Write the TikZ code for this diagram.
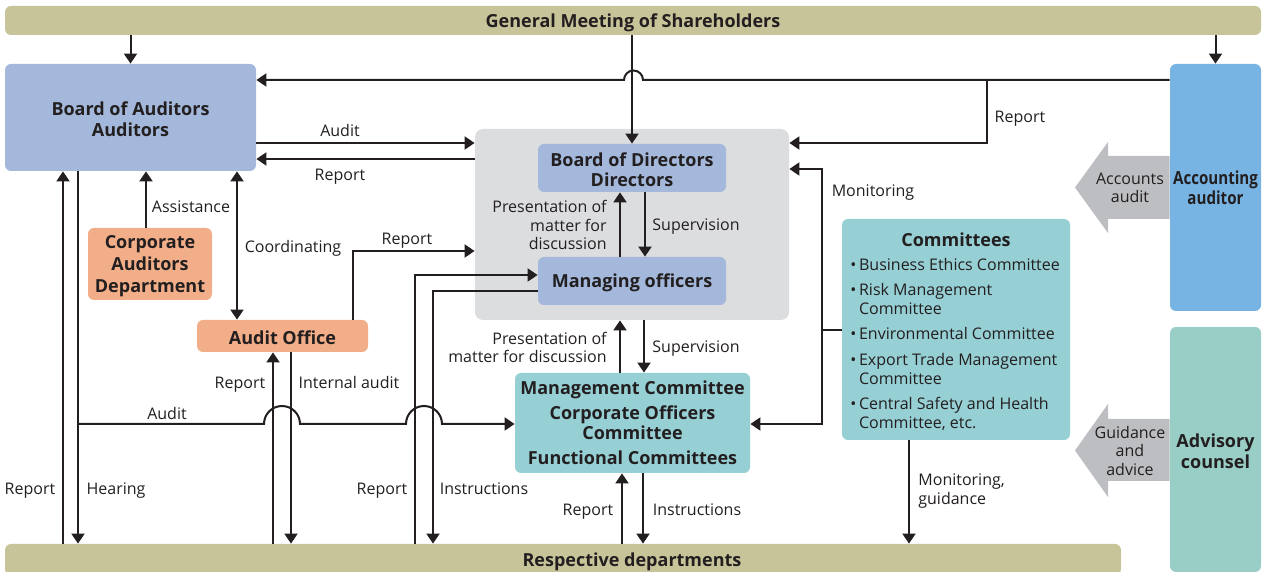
\documentclass[tikz,border=0pt]{standalone}
\usepackage{fontspec}
\setmainfont{Open Sans}
\newfontfamily\narrowsans[FakeStretch=0.84]{Open Sans}
\usetikzlibrary{arrows.meta,calc}
\definecolor{barFill}{HTML}{C8C49A}
\definecolor{audFill}{HTML}{A3B8DA}
\definecolor{dirFill}{HTML}{DCDDDF}
\definecolor{comFill}{HTML}{96CFD4}
\definecolor{accFill}{HTML}{77B4E3}
\definecolor{advFill}{HTML}{99CEC6}
\definecolor{offFill}{HTML}{F2AE88}
\definecolor{bigArrow}{HTML}{BDBEC1}
\definecolor{ink}{HTML}{231F20}
% lower one line of box text a little, keeping its box size
\newcommand\dn[1]{\raisebox{-1pt}[\height][\depth]{#1}}
\tikzset{
  box/.style  ={rounded corners=3pt, align=center, inner sep=0pt, text=ink, font=\bfseries\fontsize{9}{10}\selectfont},
  bar/.style  ={box, fill=barFill},
  aud/.style  ={box, fill=audFill},
  com/.style  ={box, fill=comFill},
  off/.style  ={box, fill=offFill},
  arr/.style  ={-{Triangle[length=5pt,width=6.5pt]}, line width=1pt, draw=ink},
  darr/.style ={{Triangle[length=5pt,width=6.5pt]}-{Triangle[length=5pt,width=6.5pt]}, line width=1pt, draw=ink},
  wire/.style ={line width=1pt, draw=ink},
  lbl/.style  ={align=center, inner sep=0pt, text=ink, font=\fontsize{8}{9.3}\selectfont},
}

\begin{document}
\begin{tikzpicture}[x=0.5pt,y=-0.5pt]
  \useasboundingbox (0,0) rectangle (1266,572);
  % bars
  \node[bar, minimum width=628pt, minimum height=14.5pt] (gm)   at (633,20.5)  {\dn{General Meeting of Shareholders}};
  \node[bar, minimum width=558pt, minimum height=15.5pt] (dept) at (563,559.5) {\hspace*{69pt}\dn{Respective departments}};
  % auditors side
  \node[aud, minimum width=125.5pt, minimum height=53.5pt, font=\bfseries\fontsize{9}{10.5}\selectfont] (boa) at (130.5,117.5)
       {\dn{Board of Auditors}\\\dn{Auditors}};
  \node[off, minimum width=62pt, minimum height=36pt, font=\bfseries\fontsize{9}{11}\selectfont] (cad) at (150,264)
       {\dn{Corporate}\\\dn{Auditors}\\\dn{Department}};
  \node[off, minimum width=85.5pt, minimum height=16pt] (ao) at (282.5,336) {\dn{Audit Office}};
  % directors
  \node[box, fill=dirFill, rounded corners=4pt, minimum width=157pt, minimum height=95.5pt] (dir) at (632,224.5) {};
  \node[aud, minimum width=94pt, minimum height=24pt] (bod) at (632,168) {\dn{Board of Directors}\\\dn{Directors}};
  \node[aud, minimum width=94pt, minimum height=24pt] (mo)  at (632,281) {\dn{Managing officers}};
  \node[com, minimum width=117.5pt, minimum height=50pt] (mc) at (632.5,423)
       {Management Committee\\[2.5pt]Corporate Officers\\Committee\\[2.5pt]Functional Committees};
  % committees
  \node[com, minimum width=114pt, minimum height=110.5pt] (com) at (956,329.5) {};
  \node[box] (comtitle) at (956,240) {Committees};
  \node[lbl, align=left, anchor=north west] (comlist) at (850,257.5)
       {\textbullet\,Business Ethics Committee\\[3.5pt]
        \textbullet\,Risk Management\\\phantom{\textbullet\,}Committee\\[3.5pt]
        \textbullet\,Environmental Committee\\[3.5pt]
        \textbullet\,Export Trade Management\\\phantom{\textbullet\,}Committee\\[3.5pt]
        \textbullet\,Central Safety and Health\\\phantom{\textbullet\,}Committee, etc.};
  % outside parties
  \node[box, fill=accFill, minimum width=45.5pt, minimum height=123.5pt, font=\narrowsans\bfseries\fontsize{9}{10}\selectfont] (acc) at (1215.5,187.5) {Accounting\\auditor};
  \node[box, fill=advFill, minimum width=45.5pt, minimum height=122.5pt, font=\bfseries\fontsize{9}{10.5}\selectfont] (adv) at (1215.5,449.5) {\dn{Advisory}\\\dn{counsel}};
  \fill[bigArrow] (acc.west |- 0,156) -- (1108,156) -- (1108,142) -- (1075,187.5) -- (1108,233) -- (1108,219) -- (acc.west |- 0,219) -- cycle;
  \fill[bigArrow] (adv.west |- 0,419) -- (1108,419) -- (1108,404) -- (1075,450.5) -- (1108,497) -- (1108,481) -- (adv.west |- 0,481) -- cycle;
  \node[lbl] (accnote) at (1130,188) {Accounts\\audit};
  \node[lbl] (advnote) at (1130,451) {Guidance\\and\\advice};

  % from the general meeting
  \draw[arr] (gm.south -| boa.north) -- (boa.north);
  \draw[arr] (gm.south -| bod.north) -- (bod.north);
  \draw[arr] (gm.south -| acc.north) -- (acc.north);
  \draw[arr] (acc.west |- 0,80) -- (643,80) arc[start angle=0, end angle=-180, radius=9.5] -- (boa.east |- 0,80);
  \coordinate (rj) at (987,80);
  \draw[arr] (rj) -- (987,143) -- (dir.east |- 0,143);
  % auditors and directors
  \draw[arr] (boa.east |- 0,143) -- (dir.west |- 0,143);
  \draw[arr] (dir.west |- 0,159) -- (boa.east |- 0,159);
  \draw[arr] (146,0 |- cad.north) -- (146,0 |- boa.south);
  \draw[darr] (237,0 |- boa.south) -- (237,0 |- ao.north);
  \draw[arr] (353,0 |- ao.north) -- (353,251) -- (dir.west |- 0,251);
  \draw[arr] (63,0 |- dept.north) -- (63,0 |- boa.south);
  \draw[arr] (78,0 |- boa.south) -- (78,0 |- dept.north);
  \draw[arr] (273,0 |- dept.north) -- (273,0 |- ao.south);
  \draw[arr] (291,0 |- ao.south) -- (291,0 |- dept.north);
  % managing officers and departments
  \draw[arr] (415,0 |- dept.north) -- (415,275) -- (mo.west |- 0,275);
  \draw[arr] (mo.west |- 0,291) -- (433,291) -- (433,0 |- dept.north);
  \coordinate (aj) at (78,424);
  \draw[arr] (aj) -- (264,424) arc[start angle=180, end angle=360, radius=18]
             -- (406,424) arc[start angle=180, end angle=360, radius=18] -- (mc.west |- 0,424);
  % inside the chain of command
  \draw[arr] (620,0 |- mo.north) -- (620,0 |- bod.south);
  \draw[arr] (645,0 |- bod.south) -- (645,0 |- mo.north);
  \draw[arr] (620,0 |- mc.north) -- (620,0 |- dir.south);
  \draw[arr] (644,0 |- dir.south) -- (644,0 |- mc.north);
  \draw[arr] (622,0 |- dept.north) -- (622,0 |- mc.south);
  \draw[arr] (643,0 |- mc.south) -- (643,0 |- dept.north);
  % committees
  \draw[darr] (dir.east |- 0,169) -- (822,169) -- (822,424) -- (mc.east |- 0,424);
  \draw[wire] (com.west |- 0,330) -- (822,330);
  \draw[arr] (909,0 |- com.south) -- (909,0 |- dept.north);

  % labels
  \node[lbl] (l1)  at (340,131) {Audit};
  \node[lbl] (l2)  at (340,177) {Report};
  \node[lbl] (l3)  at (1020,119) {Report};
  \node[lbl] (l4)  at (873,193) {Monitoring};
  \node[lbl] (l5)  at (191,207) {Assistance};
  \node[lbl] (l6)  at (293,248) {Coordinating};
  \node[lbl] (l7)  at (407,241) {Report};
  \node[lbl, align=right, anchor=east] (l8) at (607,225) {Presentation of\\matter for\\discussion};
  \node[lbl] (l9)  at (696,227) {Supervision};
  \node[lbl, align=right, anchor=east] (l10) at (607,347.5) {Presentation of\\matter for discussion};
  \node[lbl] (l11) at (696,349) {Supervision};
  \node[lbl] (l12) at (240,385) {Report};
  \node[lbl] (l13) at (349,383) {Internal audit};
  \node[lbl] (l14) at (167,414) {Audit};
  \node[lbl] (l15) at (30,491)  {Report};
  \node[lbl] (l16) at (116,491) {Hearing};
  \node[lbl] (l17) at (382,491) {Report};
  \node[lbl] (l18) at (484,489) {Instructions};
  \node[lbl] (l19) at (588,512) {Report};
  \node[lbl] (l20) at (697,510) {Instructions};
  \node[lbl, align=left, anchor=west] (l21) at (918,491) {Monitoring,\\guidance};
\end{tikzpicture}
\end{document}
